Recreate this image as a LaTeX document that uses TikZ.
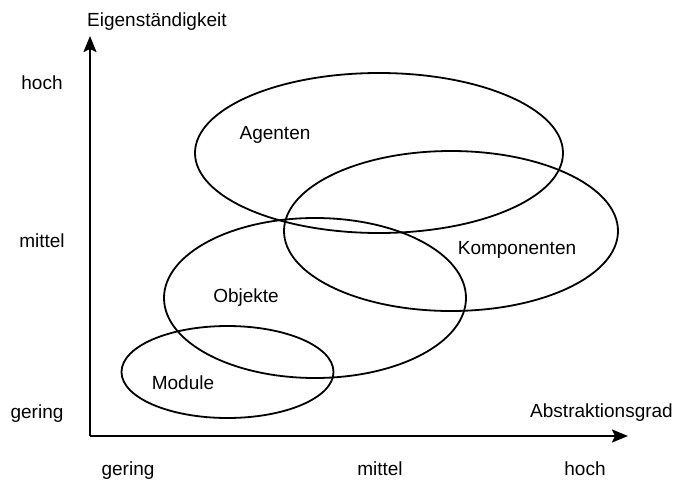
\documentclass[tikz,border=0pt]{standalone}
\usepackage{fontspec}
\setmainfont{Liberation Sans}
\usetikzlibrary{arrows.meta}
\begin{document}
\begin{tikzpicture}[x=1pt,y=-1pt,
  lbl/.style={font=\fontsize{19}{22}\selectfont, inner sep=0pt, anchor=base},
  axis/.style={line width=2pt, -{Stealth[length=16pt,width=13pt,inset=3pt]}},
  area/.style={line width=1.8pt}]
  \useasboundingbox (0,0) rectangle (675,485);

  % axes
  \coordinate (origin) at (90,436);
  \coordinate (ytip) at (90,36);
  \coordinate (xtip) at (628,436);
  \draw[axis] (origin) -- (ytip);
  \draw[axis] (origin) -- (xtip);

  % axis titles
  \node[lbl, anchor=base west] (ytitle) at (87,26) {Eigenständigkeit};
  \node[lbl, anchor=base east] (xtitle) at (673,417) {Abstraktionsgrad};

  % vertical scale
  \node[lbl] (yhoch) at (42,89) {hoch};
  \node[lbl] (ymittel) at (42,247) {mittel};
  \node[lbl] (ygering) at (37,418) {gering};

  % horizontal scale
  \node[lbl] (xgering) at (128,475) {gering};
  \node[lbl] (xmittel) at (380,475) {mittel};
  \node[lbl] (xhoch) at (585,475) {hoch};

  % regions
  \draw[area] (379,153) ellipse [x radius=184pt, y radius=80pt];
  \draw[area] (451,231) ellipse [x radius=167pt, y radius=80pt];
  \draw[area] (315,298) ellipse [x radius=151pt, y radius=80pt];
  \draw[area] (227.5,372) ellipse [x radius=106pt, y radius=46pt];

  % region labels
  \node[lbl] (agenten) at (275,139) {Agenten};
  \node[lbl] (komp) at (517,254) {Komponenten};
  \node[lbl] (objekte) at (246,302) {Objekte};
  \node[lbl] (module) at (183,389) {Module};
\end{tikzpicture}
\end{document}
